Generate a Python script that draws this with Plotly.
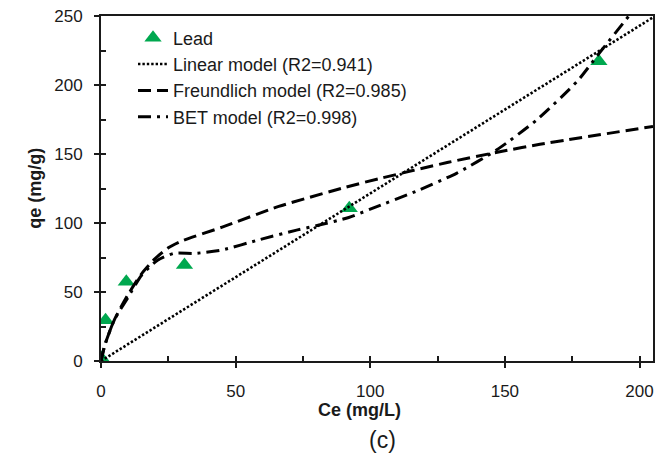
import plotly.graph_objects as go

# ---- data ----
lead_ce = [0.1, 1.7, 9.4, 31.0, 92.2, 184.9]
lead_qe = [2.2, 29.6, 57.4, 69.5, 110.7, 217.3]

linear_ce = [0, 205]
linear_qe = [0, 249]

freund_ce = [0, 1.5, 5, 10, 15, 20, 25, 30, 45, 66, 91, 103, 129, 149, 163, 205]
freund_qe = [0, 12, 30, 48, 63, 74, 82, 87, 97, 112, 126, 132, 144, 152, 157, 170]

bet_ce = [0, 1.5, 5, 10, 15, 21, 27, 35, 45, 59, 73, 81, 92, 100, 117, 132, 147, 162, 177, 185, 196, 199]
bet_qe = [0, 12, 30, 46, 62, 73, 78, 78, 80.5, 88, 95, 98.5, 104, 110, 123, 136, 153, 175, 203, 223, 250, 258]

x_ticks = [0, 50, 100, 150, 200]
y_ticks = [0, 50, 100, 150, 200, 250]

FONT = "Arial, Liberation Sans, sans-serif"
GREEN = "#00A84F"
AX = "#1a1a1a"
TXT = "#1a1a1a"

fig = go.Figure()

fig.add_trace(go.Scatter(
    x=lead_ce, y=lead_qe, mode="markers", name="Lead",
    marker=dict(symbol="triangle-up", size=15, color=GREEN),
    legendgroup="a"))
fig.add_trace(go.Scatter(
    x=linear_ce, y=linear_qe, mode="lines", name="Linear model (R2=0.941)",
    line=dict(color="black", width=2.6, dash="2.4px,2.0px"),
    legendgroup="b"))
fig.add_trace(go.Scatter(
    x=freund_ce, y=freund_qe, mode="lines", name="Freundlich model (R2=0.985)",
    line=dict(color="black", width=3, dash="13px,6px", shape="spline", smoothing=0.6),
    legendgroup="c"))
fig.add_trace(go.Scatter(
    x=bet_ce, y=bet_qe, mode="lines", name="BET model (R2=0.998)",
    line=dict(color="black", width=3, dash="13px,6px,3px,6px", shape="spline", smoothing=0.6),
    legendgroup="d"))

# invisible trace for the inside-tick overlay axes
fig.add_trace(go.Scatter(x=[None], y=[None], xaxis="x2", yaxis="y2",
                         showlegend=False, hoverinfo="skip"))

fig.update_layout(
    width=657, height=455,
    margin=dict(l=101, r=2, t=16, b=94),
    paper_bgcolor="white", plot_bgcolor="white",
    font=dict(family=FONT, size=17, color=TXT),
    showlegend=True,
    legend=dict(
        x=0.058, y=0.99, xanchor="left", yanchor="top",
        bgcolor="rgba(0,0,0,0)", borderwidth=0,
        font=dict(family=FONT, size=18, color=TXT),
        tracegroupgap=3, traceorder="normal",
    ),
    xaxis=dict(
        range=[0, 205], tickvals=x_ticks, ticktext=[str(v) for v in x_ticks],
        ticks="outside", ticklen=5, tickwidth=1.5, tickcolor=AX,
        showline=True, linewidth=2, linecolor=AX, mirror=True,
        showgrid=False, zeroline=False,
        tickfont=dict(family=FONT, size=17, color=TXT),
        ticklabelstandoff=9,
    ),
    yaxis=dict(
        range=[0, 250], tickvals=y_ticks, ticktext=[str(v) for v in y_ticks],
        ticks="outside", ticklen=5, tickwidth=1.5, tickcolor=AX,
        showline=True, linewidth=2, linecolor=AX, mirror=True,
        showgrid=False, zeroline=False,
        tickfont=dict(family=FONT, size=17, color=TXT),
        ticklabelstandoff=8,
    ),
    xaxis2=dict(
        range=[0, 205], overlaying="x", anchor="y", side="bottom",
        tickmode="linear", tick0=0, dtick=25,
        ticks="inside", ticklen=5, tickwidth=1.5, tickcolor=AX,
        showticklabels=False, showline=False, showgrid=False, zeroline=False,
    ),
    yaxis2=dict(
        range=[0, 250], overlaying="y", anchor="x", side="left",
        tickmode="linear", tick0=0, dtick=25,
        ticks="inside", ticklen=5, tickwidth=1.5, tickcolor=AX,
        showticklabels=False, showline=False, showgrid=False, zeroline=False,
    ),
    annotations=[
        dict(text="<b>Ce (mg/L)</b>", xref="paper", yref="paper",
             x=(360 - 101) / 554, y=-(410 - 361) / 345, xanchor="center", yanchor="middle",
             showarrow=False, font=dict(family=FONT, size=18, color=TXT)),
        dict(text="<b>qe (mg/g)</b>", xref="paper", yref="paper",
             x=-(101 - 34) / 554, y=0.5, xanchor="center", yanchor="middle", textangle=-90,
             showarrow=False, font=dict(family=FONT, size=18, color=TXT)),
        dict(text="(c)", xref="paper", yref="paper",
             x=(384 - 101) / 554, y=-(440 - 361) / 345, xanchor="center", yanchor="middle",
             showarrow=False, font=dict(family=FONT, size=23, color=TXT)),
    ],
)

fig.write_html("out.html")
